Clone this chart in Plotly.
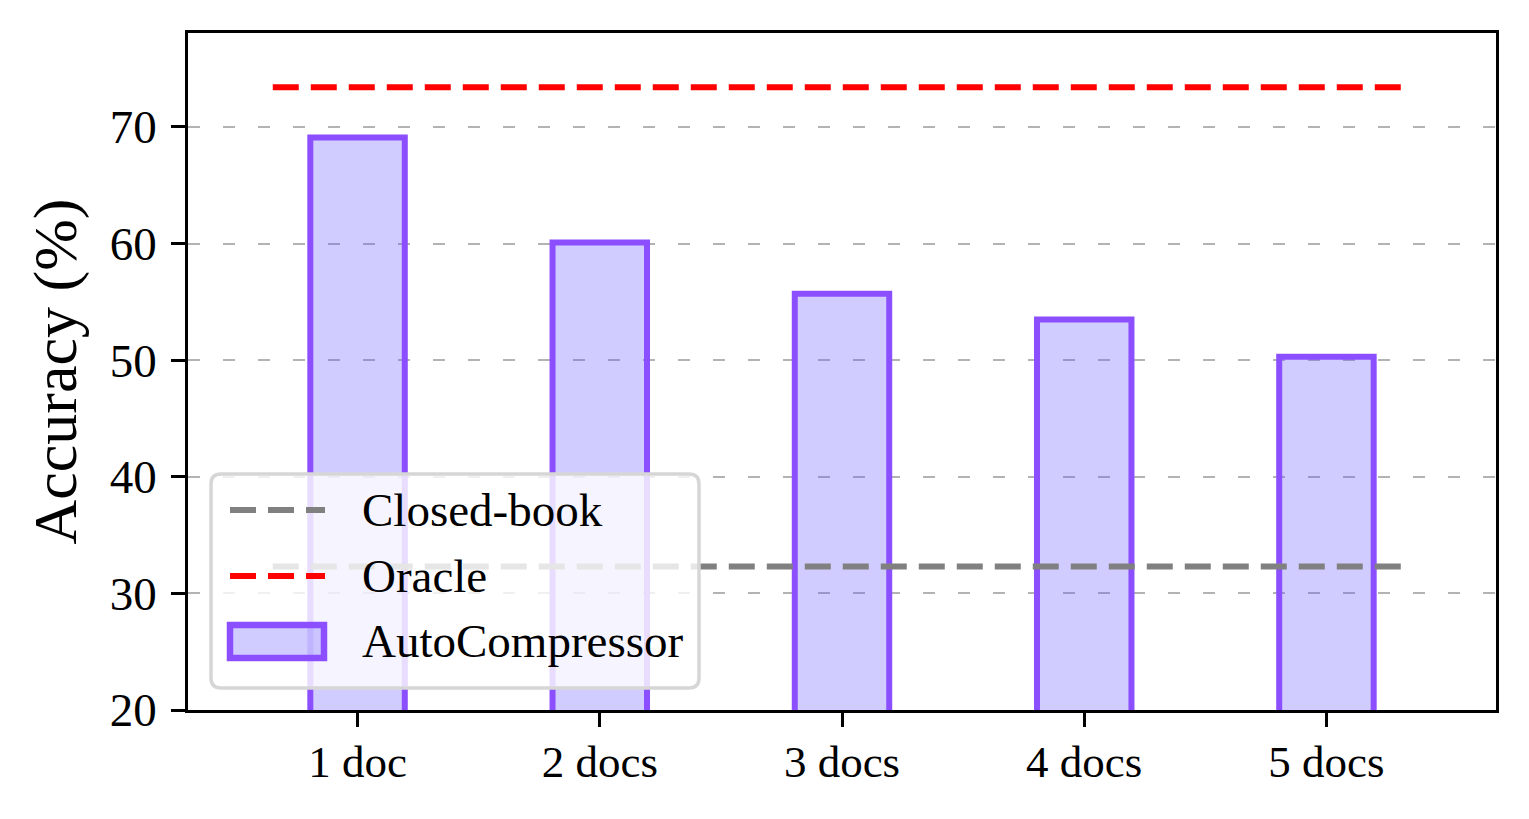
import plotly.graph_objects as go

categories = ["1 doc", "2 docs", "3 docs", "4 docs", "5 docs"]
autocompressor = [69.1, 60.1, 55.7, 53.5, 50.3]
closed_book = 32.3
oracle = 73.4
y_ticks = [20, 30, 40, 50, 60, 70]
series_names = ["Closed-book", "Oracle", "AutoCompressor"]

FONT = "Liberation Serif, Times New Roman, serif"
BAR_FILL = "rgba(98,85,255,0.3)"
BAR_EDGE = "#8c4fff"
GREY = "#808080"
RED = "#ff0000"

xpos = list(range(len(categories)))
line_x = [xpos[0] - 0.35, xpos[-1] + 0.35]

# page has an 8px body margin; figure sized so the plot area lands where the reference has it
W, H = 1521, 811
ML, MR, MT, MB = 180, 33, 25, 109
PW, PH = W - ML - MR, H - MT - MB
OFF = 8


def px2paper(x, y):
    """convert page pixel coords to paper coords (legend layout only)"""
    return (x - OFF - ML) / PW, (H - MB + OFF - y) / PH


fig = go.Figure()
fig.add_trace(go.Bar(
    x=xpos, y=autocompressor, width=0.39, base=0,
    name=series_names[2], showlegend=False,
    marker=dict(color=BAR_FILL, line=dict(color=BAR_EDGE, width=6)),
))
fig.add_trace(go.Scatter(
    x=line_x, y=[closed_book, closed_book], mode="lines", name=series_names[0],
    showlegend=False, line=dict(color=GREY, width=6, dash="26px,12px"),
))
fig.add_trace(go.Scatter(
    x=line_x, y=[oracle, oracle], mode="lines", name=series_names[1],
    showlegend=False, line=dict(color=RED, width=6, dash="26px,12px"),
))

# ---- manual legend (matplotlib-style, rounded frame) ----
shapes = []
annotations = []
bx0, by0 = px2paper(211, 688)
bx1, by1 = px2paper(699, 474)
rx, ry = 10 / PW, 10 / PH
path = (f"M{bx0+rx},{by0} L{bx1-rx},{by0} Q{bx1},{by0} {bx1},{by0+ry} "
        f"L{bx1},{by1-ry} Q{bx1},{by1} {bx1-rx},{by1} L{bx0+rx},{by1} "
        f"Q{bx0},{by1} {bx0},{by1-ry} L{bx0},{by0+ry} Q{bx0},{by0} {bx0+rx},{by0} Z")
shapes.append(dict(type="path", xref="paper", yref="paper", path=path,
                   fillcolor="rgba(255,255,255,0.8)", line=dict(color="#d6d6d6", width=3.5),
                   layer="above"))
rows_y = [510, 576, 641]
for name, yy, col in [(series_names[0], rows_y[0], GREY), (series_names[1], rows_y[1], RED)]:
    x0, y0 = px2paper(230, yy)
    x1, _ = px2paper(325, yy)
    shapes.append(dict(type="line", xref="paper", yref="paper", x0=x0, x1=x1, y0=y0, y1=y0,
                       line=dict(color=col, width=6, dash="26px,12px"), layer="above"))
rx0, ry0 = px2paper(230, 658)
rx1, ry1 = px2paper(324, 625)
shapes.append(dict(type="rect", xref="paper", yref="paper", x0=rx0, x1=rx1, y0=ry0, y1=ry1,
                   fillcolor=BAR_FILL, line=dict(color=BAR_EDGE, width=6.5), layer="above"))
for name, yy in zip(series_names, rows_y):
    tx, ty = px2paper(360, yy)
    annotations.append(dict(xref="paper", yref="paper", x=tx, y=ty, text=name,
                            showarrow=False, xanchor="left", yanchor="middle",
                            font=dict(family=FONT, size=47, color="black")))

fig.update_layout(
    width=W, height=H,
    margin=dict(l=ML, r=MR, t=MT, b=MB, autoexpand=False),
    paper_bgcolor="white", plot_bgcolor="white",
    font=dict(family=FONT, size=46, color="black"),
    showlegend=False,
    shapes=shapes, annotations=annotations,
)
fig.update_xaxes(
    range=[-0.7, 4.7], tickvals=xpos, ticktext=categories,
    showline=True, linecolor="black", linewidth=2.5, mirror=True,
    ticks="outside", ticklen=14, tickwidth=2.5, tickcolor="black",
    showgrid=False, zeroline=False, ticklabelstandoff=-4,
    tickfont=dict(family=FONT, size=45),
)
fig.update_yaxes(
    range=[20, 78.06], tickvals=y_ticks,
    showline=True, linecolor="black", linewidth=2.5, mirror=True,
    ticks="outside", ticklen=14, tickwidth=2.5, tickcolor="black",
    showgrid=True, gridcolor="#b3b3b3", gridwidth=1.5, griddash="12px,23px",
    zeroline=False, ticklabelstandoff=5,
    tickfont=dict(family=FONT, size=47),
    title=dict(text="Accuracy (%)", font=dict(family=FONT, size=62), standoff=14),
)

fig.write_html("out.html")
